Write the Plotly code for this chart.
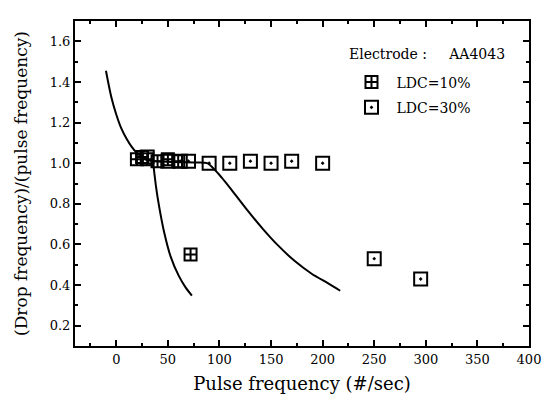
import plotly.graph_objects as go

# Data
ldc10_x = [20, 25, 30, 40, 50, 60, 72]
ldc10_y = [1.02, 1.03, 1.02, 1.01, 1.02, 1.01, 0.55]

ldc30_x = [30, 50, 62, 70, 90, 110, 130, 150, 170, 200, 250, 295]
ldc30_y = [1.03, 1.01, 1.01, 1.01, 1.00, 1.00, 1.01, 1.00, 1.01, 1.00, 0.53, 0.43]

# curve: upper-left branch -> flat part -> right branch
curve1_x = [-10, -5, 0, 5, 10, 15, 20, 25, 30, 45, 60, 75, 88, 95, 102, 110, 126, 142, 157, 173, 189, 205, 217]
curve1_y = [1.455, 1.33, 1.24, 1.17, 1.12, 1.08, 1.05, 1.03, 1.015, 1.008, 1.005, 1.003, 1.0, 0.97, 0.93, 0.88, 0.775, 0.677, 0.594, 0.518, 0.457, 0.409, 0.372]

# steep branch
curve2_x = [36, 38.5, 41.6, 46.4, 52.7, 60.6, 67, 73.3]
curve2_y = [0.99, 0.885, 0.785, 0.66, 0.54, 0.445, 0.39, 0.348]

x_ticks = [0, 50, 100, 150, 200, 250, 300, 350, 400]
y_ticks = [0.2, 0.4, 0.6, 0.8, 1.0, 1.2, 1.4, 1.6]

FONT = "DejaVu Serif"

fig = go.Figure()
fig.add_trace(go.Scatter(x=curve1_x, y=curve1_y, mode="lines",
                         line=dict(color="black", width=2, shape="spline", smoothing=0.8),
                         showlegend=False, hoverinfo="skip"))
fig.add_trace(go.Scatter(x=curve2_x, y=curve2_y, mode="lines",
                         line=dict(color="black", width=2, shape="spline", smoothing=0.8),
                         showlegend=False, hoverinfo="skip"))
fig.add_trace(go.Scatter(x=ldc10_x, y=ldc10_y, mode="markers", name="LDC=10%", legendgroup="a",
                         marker=dict(symbol="square-cross-open", size=12, color="black",
                                     line=dict(width=2, color="black"))))
fig.add_trace(go.Scatter(x=ldc30_x, y=ldc30_y, mode="markers", name="LDC=30%", legendgroup="b",
                         marker=dict(symbol="square-open-dot", size=13, color="black",
                                     line=dict(width=2, color="black"))))

axis_common = dict(showline=True, linecolor="black", linewidth=2, mirror="allticks", ticks="inside", ticklen=6,
                   tickwidth=1.5, tickcolor="black", showgrid=False, zeroline=False,
                   tickfont=dict(family=FONT, size=13, color="black"))

fig.update_xaxes(range=[-40, 400], tickvals=x_ticks,
                 minor=dict(dtick=25, tick0=0, ticks="inside", ticklen=3, tickcolor="black", tickwidth=1.5),
                 title=dict(text="Pulse frequency (#/sec)", font=dict(family=FONT, size=18, color="black"), standoff=12),
                 **axis_common)
fig.update_yaxes(range=[0.1, 1.7], tickvals=y_ticks, tickformat=".1f",
                 minor=dict(dtick=0.1, tick0=0.1, ticks="inside", ticklen=3, tickcolor="black", tickwidth=1.5),
                 title=dict(text="(Drop frequency)/(pulse frequency)", font=dict(family=FONT, size=17, color="black"), standoff=18),
                 **axis_common)

fig.add_annotation(x=0.60, y=0.899, xref="paper", yref="paper", xanchor="left", yanchor="middle",
                   text="Electrode :&nbsp;&nbsp;&nbsp;&nbsp;&nbsp;AA4043", showarrow=False,
                   font=dict(family=FONT, size=14, color="black"))

# the page body has an 8px margin, so the figure is made 8px smaller and its margins shifted
fig.update_layout(
    width=544, height=399,
    margin=dict(l=67, r=15, t=11, b=61),
    paper_bgcolor="white", plot_bgcolor="white",
    legend=dict(x=0.598, y=0.86, xanchor="left", yanchor="top", bgcolor="rgba(0,0,0,0)",
                font=dict(family=FONT, size=14, color="black"), tracegroupgap=4, traceorder="grouped",
                itemwidth=40),
)

fig.write_html("out.html")
